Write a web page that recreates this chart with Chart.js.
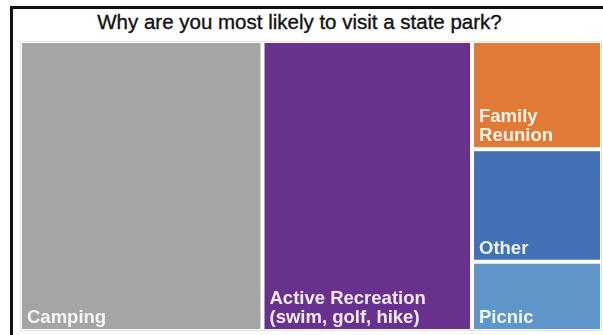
<!DOCTYPE html>
<html>
<head>
<meta charset="utf-8">
<title>State park survey</title>
<script src="https://cdn.jsdelivr.net/npm/chart.js@4.4.1/dist/chart.umd.min.js"></script>
<style>
    html, body {
        margin: 0;
        padding: 0;
        background: #fff;
        overflow: hidden;
    }
    body {
        width: 603px;
        height: 335px;
        position: relative;
    }
    .frame {
        position: absolute;
        left: 10px;
        top: 6px;
        width: 700px;
        height: 400px;
        border-top: 3px solid #111;
        border-left: 3px solid #111;
    }
    .chart-title {
        position: absolute;
        left: 0;
        top: 10px;
        width: 599px;
        text-align: center;
        font-family: "Liberation Sans", Arial, sans-serif;
        font-size: 20.5px;
        line-height: 24px;
        color: #111;
        -webkit-text-stroke: 0.35px #111;
    }
    .chart-box {
        position: absolute;
        left: 0;
        top: 0;
        width: 603px;
        height: 335px;
    }
</style>
</head>
<body>
<div class="frame"></div>
<div class="chart-title">Why are you most likely to visit a state park?</div>
<div class="chart-box"><canvas id="treemapChart"></canvas></div>

<script>
// Survey answers (tile labels are split into lines)
const categories = [
    ['Camping'],
    ['Active Recreation', '(swim, golf, hike)'],
    ['Family', 'Reunion'],
    ['Other'],
    ['Picnic']
];
const responses = [125, 108, 25, 26, 16];
const tileColors = ['#a5a5a5', '#69318e', '#e27a37', '#4470b5', '#5e96ca'];

// Worst aspect ratio of a row laid along a side of given length
function worstRatio(row, side) {
    const sum = row.reduce((a, b) => a + b, 0);
    const max = Math.max(...row);
    const min = Math.min(...row);
    const s2 = side * side;
    return Math.max(s2 * max / (sum * sum), (sum * sum) / (s2 * min));
}

// Squarified treemap layout, sizes are already areas inside rect
function squarify(sizes, rect) {
    const out = [];
    let rest = { x: rect.x, y: rect.y, w: rect.w, h: rect.h };
    let i = 0;
    while (i < sizes.length) {
        const side = Math.min(rest.w, rest.h);
        const row = [sizes[i]];
        let j = i + 1;
        while (j < sizes.length && worstRatio(row.concat(sizes[j]), side) <= worstRatio(row, side)) {
            row.push(sizes[j]);
            j++;
        }
        const rowSum = row.reduce((a, b) => a + b, 0);
        if (rest.w >= rest.h) {
            // column on the left
            const thick = rowSum / rest.h;
            let y = rest.y;
            row.forEach(s => {
                const h = s / thick;
                out.push({ x: rest.x, y: y, w: thick, h: h });
                y += h;
            });
            rest = { x: rest.x + thick, y: rest.y, w: rest.w - thick, h: rest.h };
        } else {
            // row along the top
            const thick = rowSum / rest.w;
            let x = rest.x;
            row.forEach(s => {
                const w = s / thick;
                out.push({ x: x, y: rest.y, w: w, h: thick });
                x += w;
            });
            rest = { x: rest.x, y: rest.y + thick, w: rest.w, h: rest.h - thick };
        }
        i = j;
    }
    return out;
}

const treemapPlugin = {
    id: 'treemapTiles',
    afterDatasetsDraw(chart) {
        const ctx = chart.ctx;
        const area = chart.chartArea;
        const xs = chart.scales.x;
        const ys = chart.scales.y;
        const aspect = (area.right - area.left) / (area.bottom - area.top);
        const total = responses.reduce((a, b) => a + b, 0);
        const sizes = responses.map(v => v / total * aspect);
        const tiles = squarify(sizes, { x: 0, y: 0, w: aspect, h: 1 });
        const gap = 2;

        ctx.save();
        // faint plot area outline
        ctx.strokeStyle = '#e3e3e3';
        ctx.lineWidth = 1;
        ctx.strokeRect(area.left + 0.5, area.top + 0.5, area.right - area.left - 1, area.bottom - area.top - 1);

        tiles.forEach((t, idx) => {
            const left = xs.getPixelForValue(t.x / aspect) + gap;
            const right = xs.getPixelForValue((t.x + t.w) / aspect) - gap;
            const top = ys.getPixelForValue(t.y) + gap;
            const bottom = ys.getPixelForValue(t.y + t.h) - gap;
            ctx.fillStyle = tileColors[idx];
            ctx.fillRect(left, top, right - left, bottom - top);

            // label sits in the lower left corner
            const lines = categories[idx];
            ctx.fillStyle = 'rgba(255, 255, 255, 0.9)';
            ctx.font = 'bold 18.5px "Liberation Sans", Arial, sans-serif';
            ctx.textAlign = 'left';
            ctx.textBaseline = 'alphabetic';
            const lineHeight = 19;
            lines.forEach((line, k) => {
                const y = bottom - 6 - (lines.length - 1 - k) * lineHeight;
                ctx.fillText(line, left + 5, y);
            });
        });
        ctx.restore();
    }
};

const chartCtx = document.getElementById('treemapChart').getContext('2d');
const treemapChart = new Chart(chartCtx, {
    type: 'scatter',
    data: {
        datasets: []
    },
    options: {
        responsive: true,
        maintainAspectRatio: false,
        animation: false,
        layout: {
            padding: { left: 20, top: 41, right: 1, bottom: 4 }
        },
        plugins: {
            legend: { display: false },
            title: { display: false },
            tooltip: { enabled: false }
        },
        scales: {
            x: { type: 'linear', min: 0, max: 1, display: false },
            y: { type: 'linear', min: 0, max: 1, reverse: true, display: false }
        }
    },
    plugins: [treemapPlugin]
});
</script>
</body>
</html>
